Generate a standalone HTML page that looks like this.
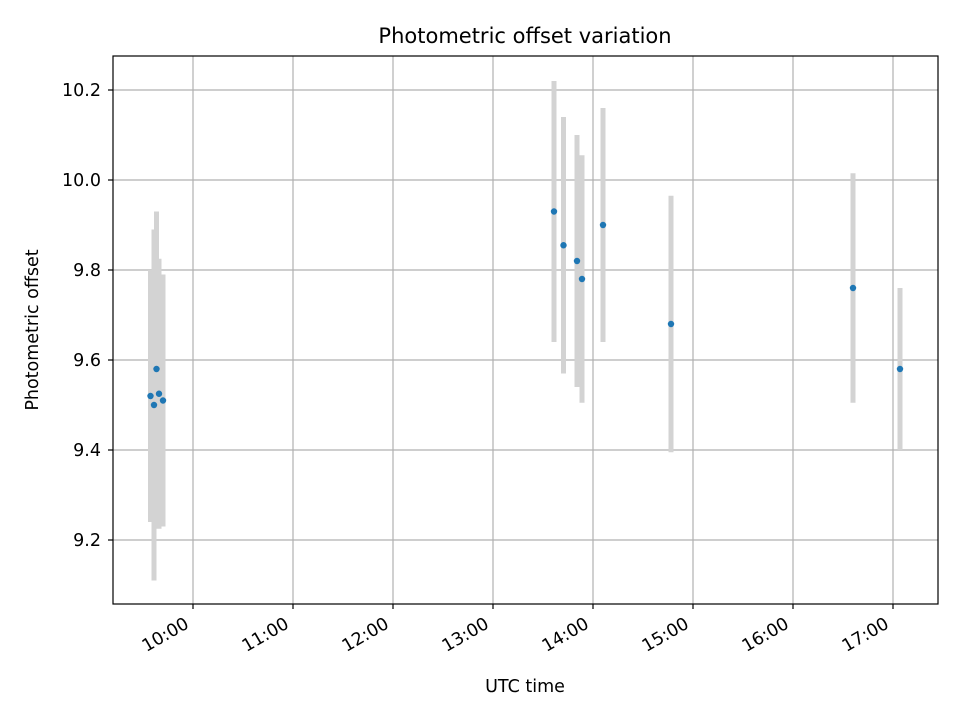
<!DOCTYPE html>
<html><head><meta charset="utf-8"><style>
body{margin:0;background:#fff}
svg text{font-family:"DejaVu Sans","Liberation Sans",sans-serif;fill:#000}
</style></head><body>
<svg id="chart" width="960" height="720">
<rect width="960" height="720" fill="#fff"/>
<g id="grid"></g>
<g id="bars"></g>
<g id="pts"></g>
<rect x="113" y="56" width="825" height="548" fill="none" stroke="#000" stroke-width="1.2"/>
<g id="ticks"></g>
<text x="525" y="43" font-size="21" text-anchor="middle">Photometric offset variation</text>
<text x="525" y="692" font-size="17.5" text-anchor="middle">UTC time</text>
<text transform="translate(38,330) rotate(-90)" font-size="17.5" text-anchor="middle">Photometric offset</text>
</svg>
<script>
const times = [9.575, 9.61, 9.635, 9.66, 9.70, 13.61, 13.705, 13.84, 13.89, 14.10, 14.78, 16.60, 17.07];
const offsets = [9.52, 9.50, 9.58, 9.525, 9.51, 9.93, 9.855, 9.82, 9.78, 9.90, 9.68, 9.76, 9.58];
const errors = [0.28, 0.39, 0.35, 0.30, 0.28, 0.29, 0.285, 0.28, 0.275, 0.26, 0.285, 0.255, 0.18];
const yTicks = [9.2, 9.4, 9.6, 9.8, 10.0, 10.2];
const xTicks = [10, 11, 12, 13, 14, 15, 16, 17];
const xLabels = ["10:00","11:00","12:00","13:00","14:00","15:00","16:00","17:00"];

const X = h => 193 + (h - 10) * 100;
const Y = v => 540 - (v - 9.2) * 450;
const NS = "http://www.w3.org/2000/svg";
function mk(tag, attrs, parent){const e=document.createElementNS(NS,tag);for(const k in attrs)e.setAttribute(k,attrs[k]);document.getElementById(parent).appendChild(e);return e;}

yTicks.forEach(v=>{
  const g=mk('line',{x1:113,x2:938,y1:Y(v),y2:Y(v),stroke:'#b0b0b0','stroke-width':1.2},'grid');
  
  
  const t=mk('line',{x1:108,x2:113,y1:Y(v),y2:Y(v),stroke:'#000','stroke-width':1.2},'ticks');
  
  
  const l=mk('text',{x:101,y:Y(v)+6,'font-size':17.5,'text-anchor':'end'},'ticks');
  l.textContent=v.toFixed(1);
  
  
});
xTicks.forEach((h,i)=>{
  const g=mk('line',{x1:X(h),x2:X(h),y1:56,y2:604,stroke:'#b0b0b0','stroke-width':1.2},'grid');
  
  
  const t=mk('line',{x1:X(h),x2:X(h),y1:604,y2:609,stroke:'#000','stroke-width':1.2},'ticks');
  
  
  const l=mk('text',{transform:`translate(${X(h)-3},${627}) rotate(-30)`,'font-size':17.5,'text-anchor':'end'},'ticks');
  l.textContent=xLabels[i];
  
  
});
times.forEach((h,i)=>{
  const b=mk('line',{x1:X(h),x2:X(h),y1:Y(offsets[i]+errors[i]),y2:Y(offsets[i]-errors[i]),stroke:'#d3d3d3','stroke-width':5},'bars');
  
  
});
times.forEach((h,i)=>{
  const p=mk('circle',{cx:X(h),cy:Y(offsets[i]),r:3.2,fill:'#1f77b4'},'pts');
  
  
});
</script>
</body></html>
